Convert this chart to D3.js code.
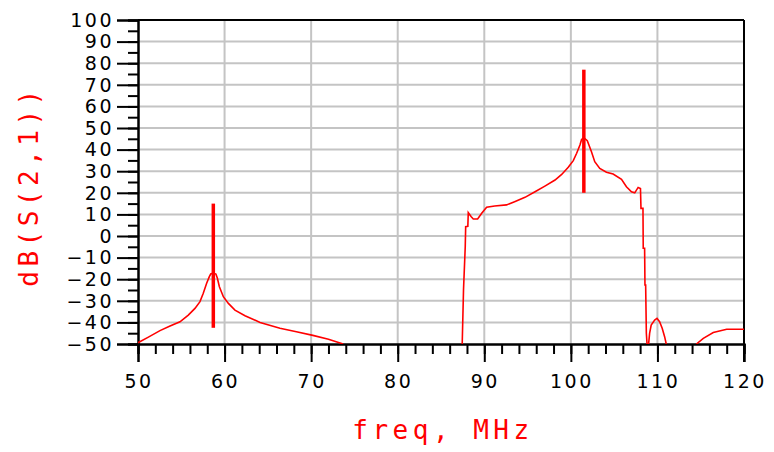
<!DOCTYPE html>
<html>
<head>
<meta charset="utf-8">
<script src="https://cdn.jsdelivr.net/npm/d3@7"></script>
<style>
  body { margin: 0; background: #fff; }
  .tickText { font-family: "DejaVu Sans", sans-serif; font-size: 19px; letter-spacing: 2.5px; fill: #000; }
  .axisText { font-family: "DejaVu Sans Mono", monospace; font-size: 26px; letter-spacing: 4.5px; fill: #ff0000; }
</style>
</head>
<body>
<div id="chart"></div>
<script>
// Data
// ==========================================
// low band (around the 58.7 MHz resonance)
var lowFreq = [50, 51.2, 52.54, 53.7, 54.85, 55.81, 56.58, 57.16, 57.54, 57.93, 58.24, 58.4, 58.7, 59.0,
    59.17, 59.4, 59.86, 60.44, 61.2, 62.36, 64.1, 66.4, 68.3, 70.2, 72, 73.7];
var lowDb = [-49.4, -46.8, -43.8, -41.7, -39.7, -36.6, -33.5, -30.4, -26.5, -21.9, -18.8, -17.6, -17.2, -17.6,
    -19.6, -23.5, -28.1, -31.2, -34.3, -36.9, -40, -42.7, -44.3, -46, -47.8, -50];

// high band (passband 88 - 108 MHz)
var highFreq = [87.45, 87.6, 87.8, 87.85, 88.1, 88.15, 88.47, 88.73, 89.23, 89.7, 90.27, 91.2, 92.57, 93.5,
    94.7, 95.86, 97, 98.17, 98.94, 99.7, 100.28, 100.67, 101.05, 101.24, 101.5, 101.9, 102.38, 102.76,
    103.34, 104.11, 104.88, 105.85, 106.42, 107, 107.38, 107.77, 108.04, 108.1, 108.33, 108.36, 108.52,
    108.56, 108.64, 108.72, 108.8, 108.98, 109.1, 109.28, 109.68, 109.95, 110.25, 110.55, 110.83, 111.02];
var highDb = [-50, -25, -5, 4.3, 4.5, 10.8, 9, 7.9, 7.9, 10.5, 13.3, 13.9, 14.4, 15.9,
    17.9, 20.5, 23.1, 25.9, 28.5, 31.8, 34.9, 38.3, 42.1, 44.7, 45.5, 44.1, 39, 34.4,
    31.3, 29.5, 28.7, 26.2, 22.8, 20.5, 20, 22.5, 22, 12.8, 12.8, -5.7, -5.7,
    -22.7, -22.7, -45, -50, -50, -45, -41.2, -38.9, -38.1, -39.7, -42.7, -46.6, -50];

// tail above 114 MHz
var tailFreq = [114.5, 115.3, 116.45, 118, 120];
var tailDb = [-50, -47.4, -44.7, -43.2, -43.2];

// narrow spikes
var spikeFreq = [58.7, 101.5];
var spikeTop = [15, 77];
var spikeBottom = [-42.5, 20];

// tick values
var xTicks = [50, 60, 70, 80, 90, 100, 110, 120];
var yTicks = [100, 90, 80, 70, 60, 50, 40, 30, 20, 10, 0, -10, -20, -30, -40, -50];

// Set up the chart
// ==========================================
var svgWidth = 774;
var svgHeight = 452;

var margin = { top: 20, right: 30, bottom: 108, left: 138 };

var width = svgWidth - margin.left - margin.right;
var height = svgHeight - margin.top - margin.bottom;

var svg = d3.select("#chart")
    .append("svg")
    .attr("width", svgWidth)
    .attr("height", svgHeight);

var chartGroup = svg.append("g")
    .attr("transform", `translate(${margin.left}, ${margin.top})`);

svg.append("clipPath")
    .attr("id", "plotClip")
    .append("rect")
    .attr("x", 0)
    .attr("y", 0)
    .attr("width", width)
    .attr("height", height);

// Scales
var xScale = d3.scaleLinear().domain([50, 120]).range([0, width]);
var yScale = d3.scaleLinear().domain([-50, 100]).range([height, 0]);

// Grid lines
chartGroup.selectAll(".vgrid")
    .data(xTicks.slice(1, -1))
    .enter()
    .append("line")
    .attr("x1", d => xScale(d))
    .attr("x2", d => xScale(d))
    .attr("y1", 0)
    .attr("y2", height)
    .attr("stroke", "#c4c4c4")
    .attr("stroke-width", 2);

chartGroup.selectAll(".hgrid")
    .data(yTicks.slice(1, -1))
    .enter()
    .append("line")
    .attr("x1", 0)
    .attr("x2", width)
    .attr("y1", d => yScale(d))
    .attr("y2", d => yScale(d))
    .attr("stroke", "#c4c4c4")
    .attr("stroke-width", 2);

// Axes
var bottomAxis = d3.axisBottom(xScale)
    .tickValues(d3.range(50, 121, 2))
    .tickSize(10)
    .tickFormat("");
var bottomMajor = d3.axisBottom(xScale)
    .tickValues(xTicks)
    .tickSize(18)
    .tickFormat("");
var leftAxis = d3.axisLeft(yScale)
    .tickValues(d3.range(-50, 101, 5))
    .tickSize(10)
    .tickFormat("");
var leftMajor = d3.axisLeft(yScale)
    .tickValues(yTicks)
    .tickSize(21)
    .tickFormat("");

[bottomAxis, bottomMajor].forEach(function(ax) {
    chartGroup.append("g")
        .attr("transform", `translate(0, ${height})`)
        .call(ax)
        .call(g => g.selectAll("line").attr("stroke", "#000").attr("stroke-width", 2))
        .call(g => g.select(".domain").attr("stroke", "#000").attr("stroke-width", 2));
});
[leftAxis, leftMajor].forEach(function(ax) {
    chartGroup.append("g")
        .call(ax)
        .call(g => g.selectAll("line").attr("stroke", "#000").attr("stroke-width", 2))
        .call(g => g.select(".domain").attr("stroke", "#000").attr("stroke-width", 2));
});

// top and right frame
chartGroup.append("line")
    .attr("x1", 0).attr("x2", width)
    .attr("y1", 0).attr("y2", 0)
    .attr("stroke", "#000").attr("stroke-width", 2);
chartGroup.append("line")
    .attr("x1", width).attr("x2", width)
    .attr("y1", 0).attr("y2", height + 18)
    .attr("stroke", "#000").attr("stroke-width", 2);

// Tick labels
chartGroup.selectAll(".ylab")
    .data(yTicks)
    .enter()
    .append("text")
    .attr("class", "tickText")
    .attr("x", -24)
    .attr("y", d => yScale(d))
    .attr("dy", "0.36em")
    .style("text-anchor", "end")
    .text(d => d < 0 ? "\u2212" + Math.abs(d) : d);

chartGroup.selectAll(".xlab")
    .data(xTicks)
    .enter()
    .append("text")
    .attr("class", "tickText")
    .attr("x", d => xScale(d) + 1)
    .attr("y", height + 44)
    .style("text-anchor", "middle")
    .text(d => d);

// Curves
var line = d3.line()
    .x(d => xScale(d[0]))
    .y(d => yScale(d[1]));

var plotGroup = chartGroup.append("g")
    .attr("clip-path", "url(#plotClip)");

[[lowFreq, lowDb], [highFreq, highDb], [tailFreq, tailDb]].forEach(function(s) {
    plotGroup.append("path")
        .datum(d3.zip(s[0], s[1]))
        .attr("d", line)
        .attr("fill", "none")
        .attr("stroke", "#ff0000")
        .attr("stroke-width", 1.6);
});

plotGroup.selectAll(".spike")
    .data(spikeFreq)
    .enter()
    .append("line")
    .attr("x1", d => xScale(d))
    .attr("x2", d => xScale(d))
    .attr("y1", (d, i) => yScale(spikeTop[i]))
    .attr("y2", (d, i) => yScale(spikeBottom[i]))
    .attr("stroke", "#ff0000")
    .attr("stroke-width", 3.5);

// Axis titles
chartGroup.append("text")
    .attr("class", "axisText")
    .attr("x", width / 2 + 2)
    .attr("y", height + 95)
    .style("text-anchor", "middle")
    .text("freq, MHz");

chartGroup.append("text")
    .attr("class", "axisText")
    .attr("transform", "rotate(-90)")
    .attr("x", -(height / 2) - 4)
    .attr("y", -100)
    .style("text-anchor", "middle")
    .text("dB(S(2,1))");
</script>
</body>
</html>
